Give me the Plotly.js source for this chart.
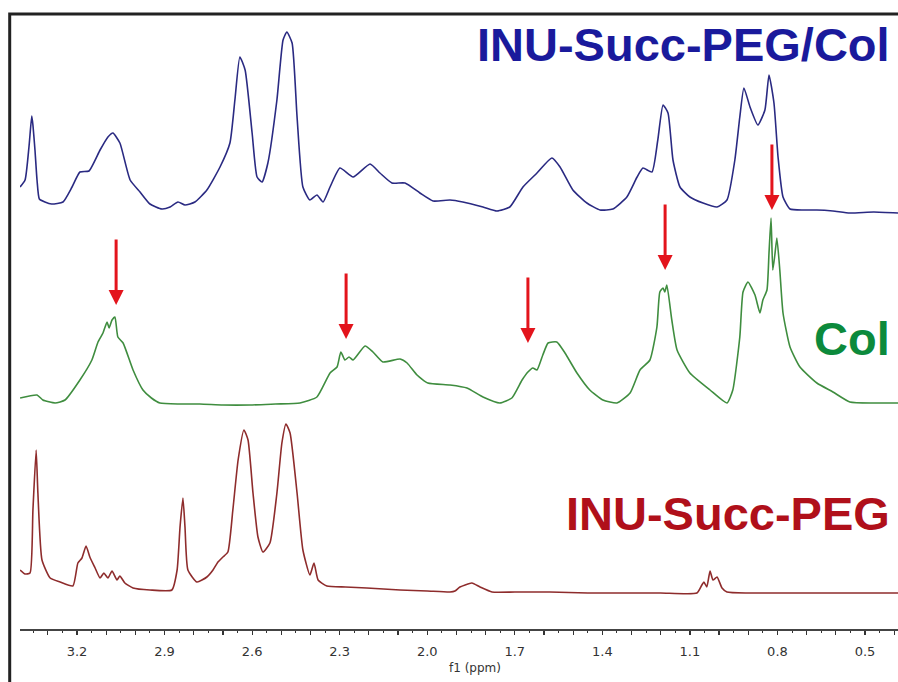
<!DOCTYPE html>
<html>
<head>
<meta charset="utf-8">
<script src="https://cdn.plot.ly/plotly-3.0.1.min.js"></script>
<style>html,body{margin:0;padding:0;background:#fff;}#chart{width:898px;height:682px;}</style>
</head>
<body>
<div id="chart"></div>
<script>
// ---- Data (ppm, intensity above each trace's own baseline) ----
const bluePpm = [3.395,3.378,3.364,3.355,3.351,3.344,3.337,3.329,3.310,3.287,3.248,3.217,3.190,3.159,3.121,3.094,3.077,3.053,3.018,2.984,2.950,2.909,2.881,2.854,2.830,2.796,2.755,2.710,2.676,2.659,2.642,2.624,2.600,2.583,2.566,2.546,2.515,2.494,2.481,2.463,2.446,2.426,2.402,2.378,2.357,2.333,2.299,2.254,2.196,2.162,2.121,2.076,2.025,1.980,1.922,1.878,1.809,1.761,1.717,1.672,1.624,1.573,1.545,1.501,1.453,1.408,1.364,1.316,1.281,1.261,1.230,1.210,1.192,1.175,1.158,1.134,1.100,1.055,1.007,0.973,0.946,0.929,0.915,0.894,0.867,0.843,0.829,0.812,0.798,0.781,0.757,0.710,0.665,0.610,0.552,0.470,0.387];
const blueInt = [26,33,68,97,88,63,33,14,11,9,11,26,41,42,63,76,80,70,33,21,9,4,6,11,8,11,23,46,70,113,156,143,80,36,31,50,113,173,181,170,96,26,13,18,11,26,45,36,49,40,30,30,20,12,13,11,6,2,6,26,40,55,46,23,10,3,4,16,36,45,41,73,108,100,53,26,16,10,6,13,53,96,125,106,88,103,138,110,56,16,4,3,3,2,0,1,0];

const greenPpm = [3.395,3.337,3.317,3.275,3.241,3.190,3.149,3.128,3.111,3.097,3.090,3.080,3.070,3.060,3.042,3.008,2.974,2.945,2.916,2.850,2.779,2.700,2.607,2.520,2.436,2.378,2.333,2.309,2.296,2.282,2.268,2.254,2.213,2.186,2.152,2.093,2.069,2.035,1.998,1.922,1.864,1.809,1.751,1.710,1.675,1.655,1.638,1.624,1.604,1.586,1.556,1.528,1.487,1.443,1.398,1.350,1.305,1.271,1.237,1.213,1.203,1.192,1.186,1.179,1.162,1.144,1.100,1.031,0.973,0.953,0.929,0.918,0.901,0.877,0.860,0.850,0.836,0.829,0.822,0.816,0.809,0.802,0.792,0.781,0.757,0.723,0.665,0.610,0.552,0.470,0.387];
const greenInt = [5,8,3,0,3,23,43,61,70,81,75,83,86,66,60,33,13,5,0,-1,-1,-2,-2,-1,0,6,30,36,51,43,46,43,57,51,41,44,40,28,20,18,15,6,0,5,23,31,35,33,48,60,61,50,30,13,3,0,10,33,43,76,111,115,111,118,83,53,30,13,0,13,66,111,121,108,90,103,113,150,185,133,148,165,133,90,56,36,20,11,1,0,0];

const redPpm = [3.395,3.378,3.361,3.351,3.340,3.334,3.320,3.292,3.258,3.214,3.197,3.183,3.169,3.156,3.138,3.121,3.108,3.094,3.080,3.063,3.053,3.036,3.008,2.950,2.875,2.857,2.847,2.837,2.830,2.820,2.789,2.755,2.734,2.717,2.700,2.683,2.666,2.648,2.628,2.614,2.597,2.580,2.563,2.539,2.515,2.498,2.484,2.470,2.446,2.426,2.402,2.388,2.374,2.344,2.280,2.207,2.093,2.000,1.922,1.905,1.888,1.847,1.819,1.778,1.700,1.580,1.450,1.350,1.200,1.076,1.059,1.052,1.042,1.031,1.021,1.007,0.990,0.973,0.900,0.781,0.600,0.387];
const redInt = [22,18,19,82,142,99,32,14,10,6,29,34,46,35,24,14,19,14,21,12,16,9,4,2,2,22,65,94,65,22,10,15,22,30,35,40,82,132,162,152,99,55,40,49,99,149,168,159,99,42,17,29,12,6,5,4,2,1,0,1,5,9,5,0,0,0,-1,-1,-1,-1,7,10,5,21,12,15,4,0,-1,-1,-1,-1];

const seriesNames = ["INU-Succ-PEG/Col", "Col", "INU-Succ-PEG"];
const tickVals = [3.3,3.2,3.1,3.0,2.9,2.8,2.7,2.6,2.5,2.4,2.3,2.2,2.1,2.0,1.9,1.8,1.7,1.6,1.5,1.4,1.3,1.2,1.1,1.0,0.9,0.8,0.7,0.6,0.5,0.4];
const tickLabels = ["","3.2","","","2.9","","","2.6","","","2.3","","","2.0","","","1.7","","","1.4","","","1.1","","","0.8","","","0.5",""];
const arrowPpm = [3.066, 2.278, 1.655, 1.185, 0.819];
const arrowTip = [324, 290, 286, 359, 419];

// ---- Layout constants (stacking offsets, styles) ----
const offsets = [416, 226, 37];
const lineColors = ["#2a2a82", "#3f8d3f", "#8e2c2c"];
const textColors = ["#1a1a9c", "#0c8a3c", "#b0101a"];
const labelY = [585, 291, 116];

const traces = [
  {x: bluePpm, y: blueInt.map(v => v + offsets[0])},
  {x: greenPpm, y: greenInt.map(v => v + offsets[1])},
  {x: redPpm, y: redInt.map(v => v + offsets[2])}
].map((t, i) => Object.assign(t, {
  type: 'scatter', mode: 'lines', name: seriesNames[i],
  line: {color: lineColors[i], width: 1.6, shape: 'spline', smoothing: 0.5},
  hoverinfo: 'skip'
}));

const annotations = seriesNames.map((n, i) => ({
  text: '<b>' + n + '</b>', xref: 'paper', yref: 'y', x: 0.9925, y: labelY[i],
  xanchor: 'right', yanchor: 'middle', showarrow: false, borderpad: 0,
  font: {family: 'Liberation Sans, Arial, sans-serif', size: 47, color: textColors[i]}
}));
arrowPpm.forEach((p, i) => annotations.push({
  x: p, y: arrowTip[i], xref: 'x', yref: 'y', text: '', showarrow: true,
  ax: 0, ay: -67, arrowhead: 2, arrowsize: 1, arrowwidth: 3, arrowcolor: '#e3141c', standoff: 0
}));
annotations.push({
  text: 'f1 (ppm)', xref: 'paper', yref: 'paper', x: (475 - 20) / 878, y: (629 - 668) / 616,
  xanchor: 'center', yanchor: 'middle', showarrow: false,
  font: {family: 'DejaVu Sans, Verdana, sans-serif', size: 12, color: '#333'}
});

const layout = {
  width: 898, height: 682,
  margin: {l: 20, r: 0, t: 13, b: 53, pad: 0},
  paper_bgcolor: '#ffffff', plot_bgcolor: '#ffffff',
  showlegend: false,
  xaxis: {
    range: [3.3953, 0.387], showgrid: false, zeroline: false,
    showline: true, linecolor: '#444', linewidth: 1.5,
    tickmode: 'array', tickvals: tickVals, ticktext: tickLabels,
    ticks: 'outside', ticklen: 4, tickwidth: 1.2, tickcolor: '#333',
    ticklabelstandoff: 6,
    tickfont: {family: 'DejaVu Sans, Verdana, sans-serif', size: 13, color: '#333'},
    minor: {tickmode: 'linear', tick0: 0, dtick: 0.05, ticks: 'outside', ticklen: 2, tickwidth: 1, tickcolor: '#333', showgrid: false}
  },
  yaxis: {range: [0, 616], visible: false, showgrid: false, zeroline: false},
  shapes: [{
    type: 'rect', xref: 'paper', yref: 'paper',
    x0: (9.7 - 20) / 878, x1: 1.05, y0: -0.2, y1: (629 - 14) / 616,
    line: {color: '#222', width: 3}, fillcolor: 'rgba(0,0,0,0)', layer: 'above'
  }],
  annotations: annotations
};

Plotly.newPlot('chart', traces, layout, {displayModeBar: false, staticPlot: true});
</script>
</body>
</html>
